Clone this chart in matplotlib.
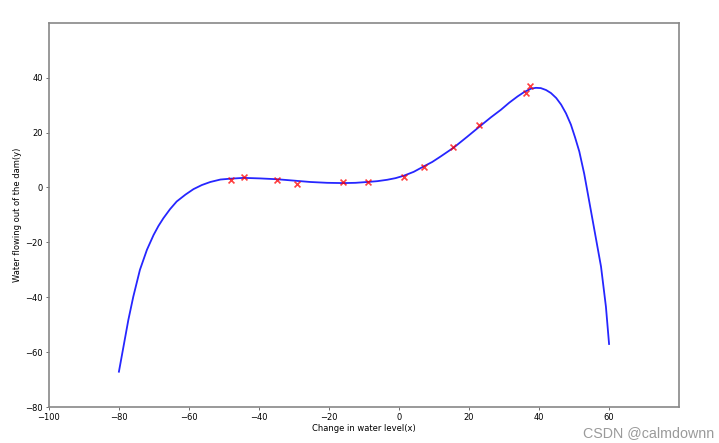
import numpy as np
import matplotlib
matplotlib.use('Agg')
import matplotlib.pyplot as plt

# training data (water level change vs water flow)
X = [-15.94, -29.15, 36.19, 37.49, -48.06, -8.94, 15.31, -34.71, 1.39, -44.38, 7.01, 22.76]
y = [2.13, 1.17, 34.36, 36.84, 2.81, 2.12, 14.71, 2.61, 3.74, 3.73, 7.63, 22.75]

# fitted curve
curve_x = [-80.0, -78.7, -77.3, -75.9, -74.0, -72.0, -70.1, -68.7, -67.3, -65.4,
           -63.5, -61.0, -58.7, -56.3, -53.9, -51.0, -48.2, -44.4, -39.6, -34.8,
           -30.0, -25.3, -20.5, -15.8, -12.4, -9.1, -6.2, -3.4, -1.0, 1.4,
           4.2, 7.1, 9.5, 11.9, 15.7, 19.5, 23.4, 26.3, 29.1, 31.5,
           33.9, 35.8, 37.7, 39.1, 40.5, 42.0, 43.4, 44.9, 46.3, 47.7,
           49.1, 50.3, 51.5, 52.9, 53.9, 55.8, 57.7, 59.1, 60.0]
curve_y = [-67.1, -58.0, -48.2, -39.8, -30.0, -22.7, -17.3, -14.0, -11.2, -7.9,
           -5.1, -2.6, -0.6, 0.9, 2.0, 2.9, 3.2, 3.5, 3.3, 3.0,
           2.5, 2.0, 1.7, 1.6, 1.7, 2.0, 2.3, 2.8, 3.4, 4.3,
           5.7, 7.7, 9.3, 11.3, 14.6, 18.5, 22.6, 25.6, 28.3, 30.9,
           33.2, 34.8, 36.0, 36.3, 36.2, 35.5, 34.4, 32.6, 30.2, 27.0,
           22.9, 18.2, 13.1, 5.0, -2.0, -15.4, -28.8, -43.4, -57.0]

xticks = [-100, -80, -60, -40, -20, 0, 20, 40, 60]
yticks = [-80, -60, -40, -20, 0, 20, 40]

fig = plt.figure(figsize=(7.19, 4.43), dpi=100)
ax = fig.add_axes([0.068, 0.081, 0.876, 0.867])

ax.plot(curve_x, curve_y, color='blue', lw=1.3, alpha=0.85)
ax.scatter(X, y, marker='x', c='red', s=18, lw=1.2, alpha=0.75, zorder=3)

ax.set_xlim(-100, 79.9)
ax.set_ylim(-80, 59.9)
ax.set_xticks(xticks)
ax.set_yticks(yticks)
ax.tick_params(labelsize=6, length=2.5, width=0.6, color='#555555', pad=2)
for s in ax.spines.values():
    s.set_color('#888888')
    s.set_linewidth(1.2)

ax.set_xlabel('Change in water level(x)', fontsize=6, labelpad=1)
ax.set_ylabel('Water flowing out of the dam(y)', fontsize=6, labelpad=2)

fig.text(0.994, 0.006, 'CSDN @calmdownn', ha='right', va='bottom',
         fontsize=10.3, color='#9a9a9a', family='Liberation Sans')

fig.savefig('out.png', dpi=100)
